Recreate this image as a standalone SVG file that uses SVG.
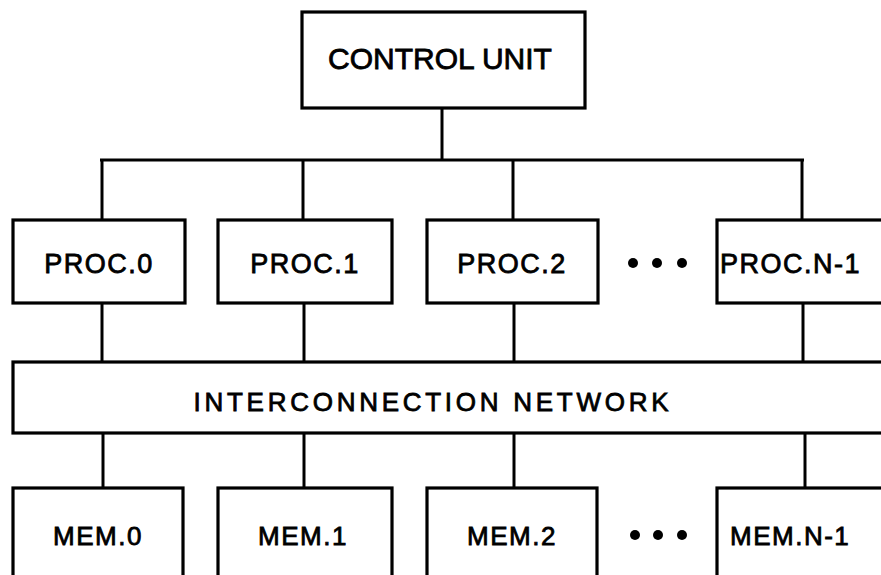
<svg xmlns="http://www.w3.org/2000/svg" width="881" height="575" viewBox="0 0 881 575">
<style>
rect{fill:#fff;stroke:#000;stroke-width:3.2}
.c line{stroke:#000;stroke-width:3}
text{font-family:"Liberation Sans","DejaVu Sans",sans-serif;fill:#000;stroke:#000;stroke-width:0.8;text-anchor:middle}
.p{font-size:27px;letter-spacing:1.5px}
.m{font-size:26px;letter-spacing:1.5px}
.dot{fill:#000}
</style>
<g class="c" id="connectors">
<line x1="442" y1="108" x2="442" y2="160"/>
<line x1="100" y1="160" x2="804" y2="160"/>
<line x1="102" y1="160" x2="102" y2="220"/>
<line x1="303" y1="160" x2="303" y2="220"/>
<line x1="513" y1="160" x2="513" y2="220"/>
<line x1="802" y1="160" x2="802" y2="220"/>
<line x1="102" y1="303" x2="102" y2="362"/>
<line x1="304" y1="303" x2="304" y2="362"/>
<line x1="514" y1="303" x2="514" y2="362"/>
<line x1="803" y1="303" x2="803" y2="362"/>
<line x1="103" y1="433" x2="103" y2="488"/>
<line x1="304" y1="433" x2="304" y2="488"/>
<line x1="514" y1="433" x2="514" y2="488"/>
<line x1="805" y1="433" x2="805" y2="488"/>
</g>
<g id="control-unit"><rect x="302" y="12" width="283" height="96"/><text x="440" y="69" style="font-size:30px">CONTROL UNIT</text></g>
<g id="proc0"><rect x="13" y="220" width="172" height="83"/><text class="p" x="99" y="273">PROC.0</text></g>
<g id="proc1"><rect x="218" y="220" width="174" height="83"/><text class="p" x="305" y="273">PROC.1</text></g>
<g id="proc2"><rect x="427" y="220" width="171" height="83"/><text class="p" x="512" y="273">PROC.2</text></g>
<g id="proc-dots"><circle class="dot" cx="633" cy="263" r="5"/><circle class="dot" cx="657" cy="263" r="5"/><circle class="dot" cx="682" cy="263" r="5"/></g>
<g id="procN-1"><rect x="717" y="220" width="180" height="83"/><text class="p" x="720" y="273" style="text-anchor:start">PROC.N-1</text></g>
<g id="network"><rect x="13" y="362" width="890" height="71"/><text x="431" y="411" style="font-size:26px" textLength="475" lengthAdjust="spacing">INTERCONNECTION NETWORK</text></g>
<g id="mem0"><rect x="13" y="488" width="170" height="100"/><text class="m" x="98" y="545">MEM.0</text></g>
<g id="mem1"><rect x="218" y="488" width="174" height="100"/><text class="m" x="303" y="545">MEM.1</text></g>
<g id="mem2"><rect x="427" y="488" width="170" height="100"/><text class="m" x="512" y="545">MEM.2</text></g>
<g id="mem-dots"><circle class="dot" cx="635" cy="535" r="5"/><circle class="dot" cx="658" cy="535" r="5"/><circle class="dot" cx="682" cy="535" r="5"/></g>
<g id="memN-1"><rect x="717" y="488" width="180" height="100"/><text class="m" x="730" y="545" style="text-anchor:start">MEM.N-1</text></g>
</svg>
